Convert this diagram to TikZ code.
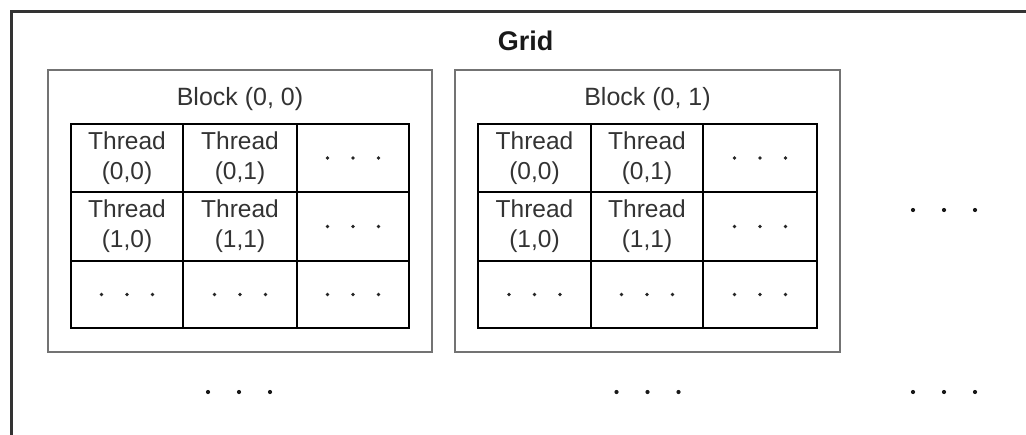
\documentclass[tikz,border=0pt]{standalone}
\usepackage{fontspec}
\setmainfont{Liberation Sans}
\begin{document}
\begin{tikzpicture}[x=1pt,y=-1pt,
  gridline/.style={line width=2.5pt, draw=black!80},
  blockbox/.style={line width=2.6pt, draw=black!55, inner sep=0pt, outer sep=0pt},
  cell/.style={draw=black, line width=1.5pt, inner sep=0pt, outer sep=0pt, align=center,
    font=\fontsize{24.5}{30}\selectfont, text=black!80},
  lbl/.style={font=\fontsize{25}{30}\selectfont, text=black!80, anchor=base},
  gridlbl/.style={font=\bfseries\fontsize{27}{30}\selectfont, text=black!90},
  smalldot/.style={fill=black!85},
  bigdot/.style={fill=black!90}]
\useasboundingbox (0,0) rectangle (1026,434);

% outer grid frame (open to the right and bottom)
\coordinate (gBL) at (11.5,440);
\coordinate (gTL) at (11.5,11.5);
\coordinate (gTR) at (1030,11.5);
\draw[gridline] (gBL) -- (gTL) -- (gTR);
\node[gridlbl] (gridtitle) at (525.5,41) {Grid};

% blocks
\node[blockbox, minimum width=384pt, minimum height=282pt] (b00) at (240,211) {};
\node[blockbox, minimum width=385pt, minimum height=282pt] (b01) at (647.5,211) {};
\node[lbl] (b00lbl) at (240,105) {Block (0, 0)};
\node[lbl] (b01lbl) at (647.5,105) {Block (0, 1)};

% block (0,0) cells
\node[cell, minimum width=112pt, minimum height=68pt] (a00) at (127,158) {Thread\\(0,0)};
\node[cell, minimum width=114pt, minimum height=68pt] (a01) at (240,158) {Thread\\(0,1)};
\node[cell, minimum width=112pt, minimum height=68pt] (a02) at (353,158) {};
\node[cell, minimum width=112pt, minimum height=69pt] (a10) at (127,226.5) {Thread\\(1,0)};
\node[cell, minimum width=114pt, minimum height=69pt] (a11) at (240,226.5) {Thread\\(1,1)};
\node[cell, minimum width=112pt, minimum height=69pt] (a12) at (353,226.5) {};
\node[cell, minimum width=112pt, minimum height=67pt] (a20) at (127,294.5) {};
\node[cell, minimum width=114pt, minimum height=67pt] (a21) at (240,294.5) {};
\node[cell, minimum width=112pt, minimum height=67pt] (a22) at (353,294.5) {};

% block (0,1) cells
\node[cell, minimum width=113pt, minimum height=68pt] (c00) at (534.5,158) {Thread\\(0,0)};
\node[cell, minimum width=112pt, minimum height=68pt] (c01) at (647,158) {Thread\\(0,1)};
\node[cell, minimum width=114pt, minimum height=68pt] (c02) at (760,158) {};
\node[cell, minimum width=113pt, minimum height=69pt] (c10) at (534.5,226.5) {Thread\\(1,0)};
\node[cell, minimum width=112pt, minimum height=69pt] (c11) at (647,226.5) {Thread\\(1,1)};
\node[cell, minimum width=114pt, minimum height=69pt] (c12) at (760,226.5) {};
\node[cell, minimum width=113pt, minimum height=67pt] (c20) at (534.5,294.5) {};
\node[cell, minimum width=112pt, minimum height=67pt] (c21) at (647,294.5) {};
\node[cell, minimum width=114pt, minimum height=67pt] (c22) at (760,294.5) {};

% ellipsis dots inside cells
\foreach \c in {a02,a12,a20,a21,a22,c02,c12,c20,c21,c22}{
  \foreach \d in {-25.5,0,25.5}{
    \fill[smalldot] ([xshift=\d pt]\c.center) circle (1.9pt);
  }
}

% ellipsis dots outside blocks
\coordinate (e1) at (239,392);
\coordinate (e2) at (647.5,392);
\coordinate (e3) at (944,392);
\coordinate (e4) at (944,210);
\foreach \e in {e1,e2,e3,e4}{
  \foreach \d in {-31,0,31}{
    \fill[bigdot] ([xshift=\d pt]\e) circle (2.1pt);
  }
}
\end{tikzpicture}
\end{document}
